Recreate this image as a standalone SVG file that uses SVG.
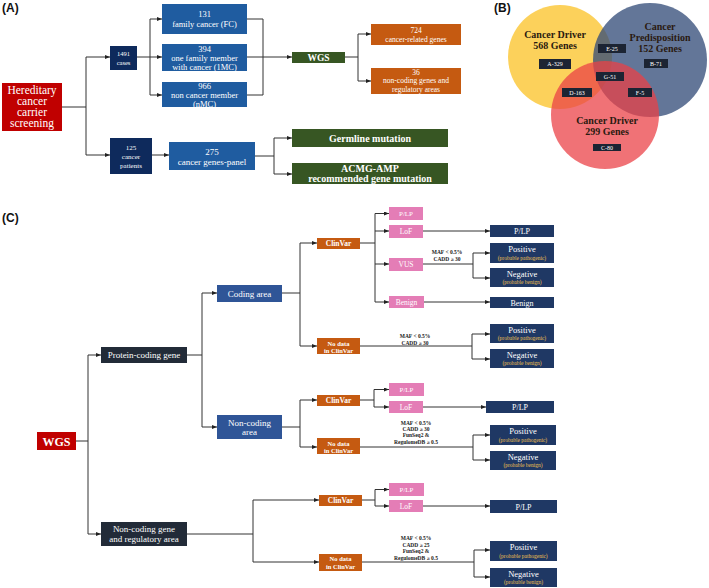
<svg xmlns="http://www.w3.org/2000/svg" width="709" height="588" viewBox="0 0 709 588">
<defs>
<marker id="ah" markerWidth="5" markerHeight="4" refX="5" refY="2" orient="auto" markerUnits="userSpaceOnUse"><path d="M0,0 L5,2 L0,4 z" fill="#222"/></marker>
<style>
.t{font-family:"Liberation Serif","DejaVu Serif",serif;fill:#fff;text-anchor:middle}
.b{font-weight:bold}
.lab{font-family:"Liberation Sans",Arial,sans-serif;font-weight:bold;font-size:12px;fill:#111}
.c{fill:none;stroke:#333;stroke-width:1}
.a{marker-end:url(#ah)}
.red{fill:#c00000}
.navy{fill:#0e2a5c}
.blue{fill:#1f5ca0}
.cblue{fill:#2f5597}
.green{fill:#375623}
.org{fill:#c55a11}
.pink{fill:#e47db6}
.res{fill:#1f3864}
.dark{fill:#222b38}
.tag{fill:#1c2433}
.vt{font-family:"Liberation Serif","DejaVu Serif",serif;font-weight:bold;font-size:10px;fill:#2a1a10;text-anchor:middle}
.tt{font-family:"Liberation Serif","DejaVu Serif",serif;font-size:6px;fill:#fff;text-anchor:middle}
.maf{font-family:"Liberation Serif","DejaVu Serif",serif;font-weight:bold;font-size:5.5px;fill:#222;text-anchor:middle}
.gold{fill:#f2c14e}
</style>
</defs>
<rect width="709" height="588" fill="#fff"/>

<text class="lab" x="2" y="12">(A)</text>
<text class="lab" x="494" y="12">(B)</text>
<text class="lab" x="2" y="222">(C)</text>

<!-- Panel A nodes -->
<g id="hereditary"><rect class="red" x="2" y="83" width="60" height="48"/>
<text class="t" font-size="11.5" x="32" y="94">Hereditary</text><text class="t" font-size="11.5" x="32" y="105">cancer</text><text class="t" font-size="11.5" x="32" y="116">carrier</text><text class="t" font-size="11.5" x="32" y="127">screening</text></g>
<g id="cases1491"><rect class="navy" x="110" y="46" width="27" height="24"/>
<text class="t" font-size="6.5" x="123.5" y="56">1491</text><text class="t" font-size="6.5" x="123.5" y="64.5">cases</text></g>
<g id="fc"><rect class="blue" x="162" y="4" width="85" height="30"/>
<text class="t" font-size="8.5" x="204.5" y="17">131</text><text class="t" font-size="8.5" x="204.5" y="27">family cancer (FC)</text></g>
<g id="imc"><rect class="blue" x="162" y="44" width="85" height="27"/>
<text class="t" font-size="8.5" x="204.5" y="52">394</text><text class="t" font-size="8.5" x="204.5" y="61">one family member</text><text class="t" font-size="8.5" x="204.5" y="70">with cancer (1MC)</text></g>
<g id="nmc"><rect class="blue" x="162" y="82" width="85" height="25"/>
<text class="t" font-size="8.5" x="204.5" y="89">966</text><text class="t" font-size="8.5" x="204.5" y="98">non cancer member</text><text class="t" font-size="8.5" x="204.5" y="107">(nMC)</text></g>
<g id="wgsA"><rect class="green" x="292" y="52" width="53" height="11"/>
<text class="t b" font-size="9.5" x="318.5" y="61">WGS</text></g>
<g id="g724"><rect class="org" x="371" y="24" width="90" height="21"/>
<text class="t" font-size="7.5" x="416" y="32.5">724</text><text class="t" font-size="7.5" x="416" y="41.5">cancer-related genes</text></g>
<g id="g36"><rect class="org" x="371" y="68" width="90" height="26"/>
<text class="t" font-size="7.5" x="416" y="74.5">36</text><text class="t" font-size="7.5" x="416" y="83">non-coding genes and</text><text class="t" font-size="7.5" x="416" y="91.5">regulatory areas</text></g>
<g id="patients125"><rect class="navy" x="110" y="138" width="42" height="36"/>
<text class="t" font-size="7" x="131" y="149.5">125</text><text class="t" font-size="7" x="131" y="158.5">cancer</text><text class="t" font-size="7" x="131" y="167.5">patients</text></g>
<g id="panel275"><rect class="blue" x="169" y="142" width="86" height="28"/>
<text class="t" font-size="9" x="212" y="155">275</text><text class="t" font-size="9" x="212" y="164.5">cancer genes-panel</text></g>
<g id="germline"><rect class="green" x="292" y="129" width="156" height="18"/>
<text class="t b" font-size="10" x="370" y="141.5">Germline mutation</text></g>
<g id="acmg"><rect class="green" x="292" y="163" width="156" height="21"/>
<text class="t b" font-size="10" x="370" y="171.5">ACMG-AMP</text><text class="t b" font-size="10" x="370" y="182">recommended gene mutation</text></g>

<!-- Panel B -->
<g id="venn">
<circle cx="560" cy="57" r="52" fill="#fcd15b"/>
<circle cx="650" cy="60" r="57" fill="rgb(50,75,120)" fill-opacity="0.76"/>
<circle cx="605" cy="115" r="54" fill="rgb(235,65,70)" fill-opacity="0.74"/>
<text class="vt" x="555" y="37.5">Cancer Driver</text><text class="vt" x="555" y="48.5">568 Genes</text>
<text class="vt" x="660" y="29.5">Cancer</text><text class="vt" x="660" y="40.5">Predisposition</text><text class="vt" x="660" y="51.5">152 Genes</text>
<text class="vt" x="607" y="123.5">Cancer Driver</text><text class="vt" x="607" y="134.5">299 Genes</text>
</g>
<g id="tagA"><rect class="tag" x="539" y="59" width="32" height="10"/><text class="tt" x="555" y="66">A-329</text></g>
<g id="tagE"><rect class="tag" x="598" y="44" width="28" height="9"/><text class="tt" x="612" y="50.5">E-25</text></g>
<g id="tagB"><rect class="tag" x="644" y="59" width="24" height="9"/><text class="tt" x="656" y="65.5">B-71</text></g>
<g id="tagG"><rect class="tag" x="596" y="72" width="28" height="9"/><text class="tt" x="610" y="78.5">G-51</text></g>
<g id="tagD"><rect class="tag" x="562" y="88" width="30" height="9"/><text class="tt" x="577" y="94.5">D-163</text></g>
<g id="tagF"><rect class="tag" x="628" y="88" width="24" height="9"/><text class="tt" x="640" y="94.5">F-5</text></g>
<g id="tagC"><rect class="tag" x="593" y="144" width="28" height="7"/><text class="tt" x="607" y="149.8">C-80</text></g>

<!-- Panel C nodes -->
<g id="wgsC"><rect class="red" x="37" y="432" width="39" height="18"/><text class="t b" font-size="12" x="56.5" y="445.5">WGS</text></g>
<g id="protein"><rect class="dark" x="101" y="347" width="86" height="16"/><text class="t" font-size="9" x="144" y="358">Protein-coding gene</text></g>
<g id="noncodinggene"><rect class="dark" x="101" y="522" width="86" height="24"/><text class="t" font-size="9" x="144" y="532">Non-coding gene</text><text class="t" font-size="9" x="144" y="542">and regulatory area</text></g>
<g id="coding"><rect class="cblue" x="217" y="285" width="65" height="17"/><text class="t" font-size="9" x="249.5" y="296.5">Coding area</text></g>
<g id="noncodingarea"><rect class="cblue" x="217" y="415" width="65" height="24"/><text class="t" font-size="9" x="249.5" y="425.5">Non-coding</text><text class="t" font-size="9" x="249.5" y="435">area</text></g>

<g id="clinvar1"><rect class="org" x="317" y="238" width="43" height="11"/><text class="t b" font-size="7.5" x="338.5" y="246">ClinVar</text></g>
<g id="nodata1"><rect class="org" x="317" y="338" width="43" height="16"/><text class="t b" font-size="6.5" x="338.5" y="345.5">No data</text><text class="t b" font-size="6.5" x="338.5" y="352.5">in ClinVar</text></g>
<g id="clinvar2"><rect class="org" x="317" y="395" width="43" height="11"/><text class="t b" font-size="7.5" x="338.5" y="403">ClinVar</text></g>
<g id="nodata2"><rect class="org" x="317" y="438" width="43" height="16"/><text class="t b" font-size="6.5" x="338.5" y="445.5">No data</text><text class="t b" font-size="6.5" x="338.5" y="452.5">in ClinVar</text></g>
<g id="clinvar3"><rect class="org" x="319" y="495" width="43" height="11"/><text class="t b" font-size="7.5" x="340.5" y="503">ClinVar</text></g>
<g id="nodata3"><rect class="org" x="319" y="554" width="43" height="17"/><text class="t b" font-size="6.5" x="340.5" y="561">No data</text><text class="t b" font-size="6.5" x="340.5" y="568.5">in ClinVar</text></g>

<g id="plp1"><rect class="pink" x="389" y="207" width="34" height="13"/><text class="t" font-size="7" x="406" y="216">P/LP</text></g>
<g id="lof1"><rect class="pink" x="389" y="225" width="34" height="13"/><text class="t" font-size="7.5" x="406" y="234">LoF</text></g>
<g id="vus"><rect class="pink" x="389" y="258" width="34" height="13"/><text class="t" font-size="7.5" x="406" y="267">VUS</text></g>
<g id="benignP"><rect class="pink" x="389" y="296" width="35" height="12"/><text class="t" font-size="7.5" x="406.5" y="304.5">Benign</text></g>
<g id="plp2"><rect class="pink" x="389" y="383" width="35" height="13"/><text class="t" font-size="7" x="406.5" y="392">P/LP</text></g>
<g id="lof2"><rect class="pink" x="389" y="401" width="34" height="12"/><text class="t" font-size="7.5" x="406" y="409.5">LoF</text></g>
<g id="plp3"><rect class="pink" x="389" y="483" width="35" height="13"/><text class="t" font-size="7" x="406.5" y="492">P/LP</text></g>
<g id="lof3"><rect class="pink" x="389" y="500" width="34" height="12"/><text class="t" font-size="7.5" x="406" y="508.5">LoF</text></g>

<g id="resPLP1"><rect class="res" x="490" y="225" width="64" height="12"/><text class="t" font-size="8" x="522" y="234">P/LP</text></g>
<g id="resPos1"><rect class="res" x="490" y="243" width="64" height="20"/><text class="t" font-size="8.5" x="522" y="252">Positive</text><text class="t gold" font-size="5.5" x="522" y="259.5">(probable pathogenic)</text></g>
<g id="resNeg1"><rect class="res" x="490" y="268" width="64" height="19"/><text class="t" font-size="8.5" x="522" y="277">Negative</text><text class="t gold" font-size="5.5" x="522" y="284">(probable benign)</text></g>
<g id="resBenign"><rect class="res" x="490" y="297" width="64" height="11"/><text class="t" font-size="8" x="522" y="305.5">Benign</text></g>
<g id="resPos2"><rect class="res" x="490" y="324" width="64" height="19"/><text class="t" font-size="8.5" x="522" y="332.5">Positive</text><text class="t gold" font-size="5.5" x="522" y="340">(probable pathogenic)</text></g>
<g id="resNeg2"><rect class="res" x="490" y="349" width="64" height="19"/><text class="t" font-size="8.5" x="522" y="358">Negative</text><text class="t gold" font-size="5.5" x="522" y="365">(probable benign)</text></g>
<g id="resPLP2"><rect class="res" x="486" y="401" width="68" height="12"/><text class="t" font-size="8" x="520" y="410">P/LP</text></g>
<g id="resPos3"><rect class="res" x="490" y="425" width="66" height="20"/><text class="t" font-size="8.5" x="523" y="434">Positive</text><text class="t gold" font-size="5.5" x="523" y="441.5">(probable pathogenic)</text></g>
<g id="resNeg3"><rect class="res" x="490" y="451" width="66" height="19"/><text class="t" font-size="8.5" x="523" y="460">Negative</text><text class="t gold" font-size="5.5" x="523" y="467">(probable benign)</text></g>
<g id="resPLP3"><rect class="res" x="490" y="500" width="67" height="13"/><text class="t" font-size="8" x="523.5" y="509.5">P/LP</text></g>
<g id="resPos4"><rect class="res" x="490" y="541" width="67" height="20"/><text class="t" font-size="8.5" x="523.5" y="550">Positive</text><text class="t gold" font-size="5.5" x="523.5" y="557.5">(probable pathogenic)</text></g>
<g id="resNeg4"><rect class="res" x="490" y="568" width="67" height="19"/><text class="t" font-size="8.5" x="523.5" y="577">Negative</text><text class="t gold" font-size="5.5" x="523.5" y="584">(probable benign)</text></g>

<!-- connectors -->
<g id="connectors">
<path class="c" d="M62,107 H86 M86,57 V155"/>
<path class="c a" d="M86,57 H110"/><path class="c a" d="M86,155 H110"/>
<path class="c" d="M137,57 H150 M150,19 V95"/>
<path class="c a" d="M150,19 H162"/><path class="c a" d="M150,57 H162"/><path class="c a" d="M150,95 H162"/>
<path class="c" d="M247,19 H263 M247,57 H263 M247,95 H263 M263,19 V95"/>
<path class="c a" d="M263,57 H292"/>
<path class="c" d="M345,57 H358 M358,34 V81"/>
<path class="c a" d="M358,34 H371"/><path class="c a" d="M358,81 H371"/>
<path class="c a" d="M152,155 H169"/>
<path class="c" d="M255,156 H274 M274,138 V174"/>
<path class="c a" d="M274,138 H292"/><path class="c a" d="M274,174 H292"/>

<path class="c" d="M76,441 H88 M88,355 V534"/>
<path class="c a" d="M88,355 H101"/><path class="c a" d="M88,534 H101"/>
<path class="c" d="M187,355 H202 M202,293 V427"/>
<path class="c a" d="M202,293 H217"/><path class="c a" d="M202,427 H217"/>
<path class="c" d="M282,293 H300 M300,243 V346"/>
<path class="c a" d="M300,243 H317"/><path class="c a" d="M300,346 H317"/>
<path class="c" d="M360,243 H375 M375,213.5 V302"/>
<path class="c a" d="M375,213.5 H389"/><path class="c a" d="M375,231 H389"/><path class="c a" d="M375,264 H389"/><path class="c a" d="M375,302 H389"/>
<path class="c a" d="M423,231 H490"/>
<path class="c" d="M423,264 H473 M473,253 V278"/>
<path class="c a" d="M473,253 H490"/><path class="c a" d="M473,278 H490"/>
<path class="c a" d="M424,302 H490"/>
<path class="c" d="M360,346 H472 M472,334 V359"/>
<path class="c a" d="M472,334 H490"/><path class="c a" d="M472,359 H490"/>
<path class="c" d="M282,427 H300 M300,400 V447"/>
<path class="c a" d="M300,400 H317"/><path class="c a" d="M300,447 H317"/>
<path class="c" d="M360,400 H374 M374,389.5 V407"/>
<path class="c a" d="M374,389.5 H389"/><path class="c a" d="M374,407 H389"/>
<path class="c a" d="M423,407 H486"/>
<path class="c" d="M360,447 H473 M473,435 V460"/>
<path class="c a" d="M473,435 H490"/><path class="c a" d="M473,460 H490"/>
<path class="c" d="M187,534 H253 M253,500 V562"/>
<path class="c a" d="M253,500 H319"/><path class="c a" d="M253,562 H319"/>
<path class="c" d="M362,500 H375 M375,489.5 V506"/>
<path class="c a" d="M375,489.5 H389"/><path class="c a" d="M375,506 H389"/>
<path class="c a" d="M423,506 H490"/>
<path class="c" d="M362,562 H474 M474,550 V577"/>
<path class="c a" d="M474,550 H490"/><path class="c a" d="M474,577 H490"/>
</g>

<g id="labels">
<text class="maf" x="447" y="254">MAF &lt; 0.5%</text><text class="maf" x="447" y="261">CADD ≥ 30</text>
<text class="maf" x="415" y="338">MAF &lt; 0.5%</text><text class="maf" x="415" y="344.5">CADD ≥ 30</text>
<text class="maf" x="416" y="425">MAF &lt; 0.5%</text><text class="maf" x="416" y="431">CADD ≥ 30</text><text class="maf" x="416" y="437">FunSeq2 &amp;</text><text class="maf" x="416" y="443.5">RegulomeDB ≥ 0.5</text>
<text class="maf" x="416" y="540">MAF &lt; 0.5%</text><text class="maf" x="416" y="546.5">CADD ≥ 25</text><text class="maf" x="416" y="553">FunSeq2 &amp;</text><text class="maf" x="416" y="559.5">RegulomeDB ≥ 0.5</text>
</g>
</svg>
